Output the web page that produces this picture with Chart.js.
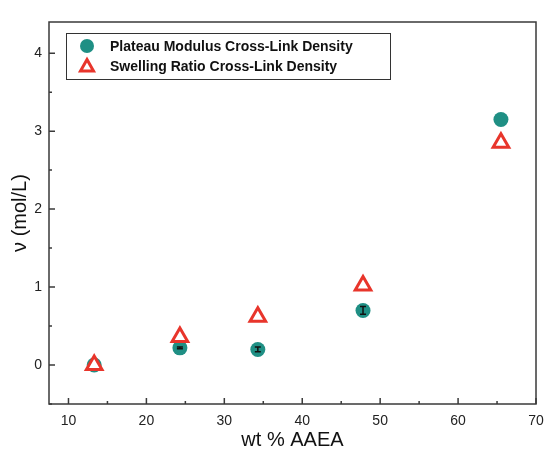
<!DOCTYPE html>
<html>
<head>
<meta charset="utf-8">
<script src="https://cdn.jsdelivr.net/npm/chart.js@4.4.1/dist/chart.umd.min.js"></script>
<style>
  body { margin: 0; background: #fff; }
  canvas { display: block; }
</style>
</head>
<body>
<canvas id="myChart" width="546" height="456"></canvas>
<script>
// Data
const wtAAEA = [13.3, 24.3, 34.3, 47.8, 65.5];
const plateauDensity = [0.0, 0.22, 0.2, 0.7, 3.15];
const plateauErr = [0.02, 0.01, 0.03, 0.05, 0.0];
const swellingDensity = [0.0, 0.36, 0.62, 1.02, 2.85];
const xTicks = [10, 20, 30, 40, 50, 60, 70];
const yTicks = [0, 1, 2, 3, 4];
const seriesNames = ["Plateau Modulus Cross-Link Density", "Swelling Ratio Cross-Link Density"];

const teal = "#1f8f84";
const red = "#e8352b";
const axisColor = "#3a3a3a";
const fontFamily = "'Liberation Sans', Arial, sans-serif";

const toPoints = (xs, ys) => xs.map((x, i) => ({ x: x, y: ys[i] }));

// draws frame, inward ticks, x tick labels, error bars and the boxed legend
const extras = {
  id: "extras",
  afterDatasetDraw(chart, args) {
    if (args.index !== 0) return;
    const ctx = chart.ctx;
    const xs = chart.scales.x, ys = chart.scales.y;

    // error bars on plateau points (under the triangles)
    ctx.save();
    ctx.strokeStyle = "#111";
    ctx.lineWidth = 1.5;
    wtAAEA.forEach((x, i) => {
      const e = plateauErr[i];
      if (!e) return;
      const px = xs.getPixelForValue(x);
      const y1 = ys.getPixelForValue(plateauDensity[i] + e);
      const y2 = ys.getPixelForValue(plateauDensity[i] - e);
      ctx.beginPath();
      ctx.moveTo(px, y1); ctx.lineTo(px, y2);
      ctx.moveTo(px - 3, y1); ctx.lineTo(px + 3, y1);
      ctx.moveTo(px - 3, y2); ctx.lineTo(px + 3, y2);
      ctx.stroke();
    });
    ctx.restore();
  },
  afterDraw(chart) {
    const ctx = chart.ctx;
    const xs = chart.scales.x, ys = chart.scales.y;
    const a = chart.chartArea;
    ctx.save();
    ctx.strokeStyle = axisColor;
    ctx.lineWidth = 1.5;
    ctx.strokeRect(a.left, a.top, a.right - a.left, a.bottom - a.top);

    // ticks (inward)
    ctx.beginPath();
    for (let v = 10; v <= 70; v += 5) {
      const px = xs.getPixelForValue(v);
      const len = v % 10 === 0 ? 6 : 3;
      ctx.moveTo(px, a.bottom); ctx.lineTo(px, a.bottom - len);
    }
    for (let v = -0.5; v <= 4.4; v += 0.5) {
      const py = ys.getPixelForValue(v);
      const len = Math.abs(v % 1) < 1e-6 ? 6 : 3;
      ctx.moveTo(a.left, py); ctx.lineTo(a.left + len, py);
    }
    ctx.stroke();

    // x tick labels
    ctx.fillStyle = "#222";
    ctx.font = "14px " + fontFamily;
    ctx.textAlign = "center";
    ctx.textBaseline = "middle";
    xTicks.forEach(v => ctx.fillText(String(v), xs.getPixelForValue(v), a.bottom + 17));

    // legend box
    ctx.textAlign = "left";
    ctx.lineWidth = 1;
    ctx.strokeStyle = "#333";
    ctx.strokeRect(66.5, 33.5, 324, 46);
    ctx.fillStyle = teal;
    ctx.beginPath();
    ctx.arc(87, 46, 7, 0, Math.PI * 2);
    ctx.fill();
    ctx.strokeStyle = red;
    ctx.fillStyle = "#fff";
    ctx.lineWidth = 3;
    ctx.lineJoin = "miter";
    ctx.beginPath();
    ctx.moveTo(87, 59.5);
    ctx.lineTo(93.5, 71);
    ctx.lineTo(80.5, 71);
    ctx.closePath();
    ctx.fill();
    ctx.stroke();
    ctx.fillStyle = "#111";
    ctx.font = "bold 14px " + fontFamily;
    ctx.fillText(seriesNames[0], 110, 47);
    ctx.fillText(seriesNames[1], 110, 67);
    ctx.restore();
  }
};

const config = {
  type: "scatter",
  data: {
    datasets: [
      {
        label: seriesNames[0],
        data: toPoints(wtAAEA, plateauDensity),
        backgroundColor: teal,
        borderColor: teal,
        borderWidth: 0,
        pointStyle: "circle",
        pointRadius: 7.5,
        order: 2
      },
      {
        label: seriesNames[1],
        data: toPoints(wtAAEA, swellingDensity),
        backgroundColor: "#fff",
        borderColor: red,
        borderWidth: 3,
        pointStyle: "triangle",
        pointRadius: 9,
        order: 1
      }
    ]
  },
  options: {
    responsive: false,
    animation: false,
    layout: { autoPadding: false, padding: { top: 22, right: 10, left: 0, bottom: 0 } },
    plugins: {
      legend: { display: false },
      tooltip: { enabled: false }
    },
    scales: {
      x: {
        type: "linear",
        min: 7.5,
        max: 70,
        grid: { display: false, drawTicks: false },
        border: { display: false },
        afterBuildTicks: s => { s.ticks = xTicks.map(v => ({ value: v })); },
        afterFit: s => { s.height = 52; },
        ticks: { display: false },
        title: {
          display: true,
          text: "wt % AAEA",
          color: "#111",
          padding: { top: 0, bottom: 4 },
          font: { family: fontFamily, size: 20 }
        }
      },
      y: {
        type: "linear",
        min: -0.5,
        max: 4.4,
        grid: { display: false, drawTicks: false },
        border: { display: false },
        afterBuildTicks: s => { s.ticks = yTicks.map(v => ({ value: v })); },
        afterFit: s => { s.width = 49; },
        ticks: {
          color: "#222",
          padding: 7,
          font: { family: fontFamily, size: 14 }
        },
        title: {
          display: true,
          text: "ν (mol/L)",
          color: "#111",
          padding: { top: 8, bottom: 0 },
          font: { family: fontFamily, size: 20 }
        }
      }
    }
  },
  plugins: [extras]
};

// Create chart
const ctx = document.getElementById("myChart").getContext("2d");
const myChart = new Chart(ctx, config);
</script>
</body>
</html>
